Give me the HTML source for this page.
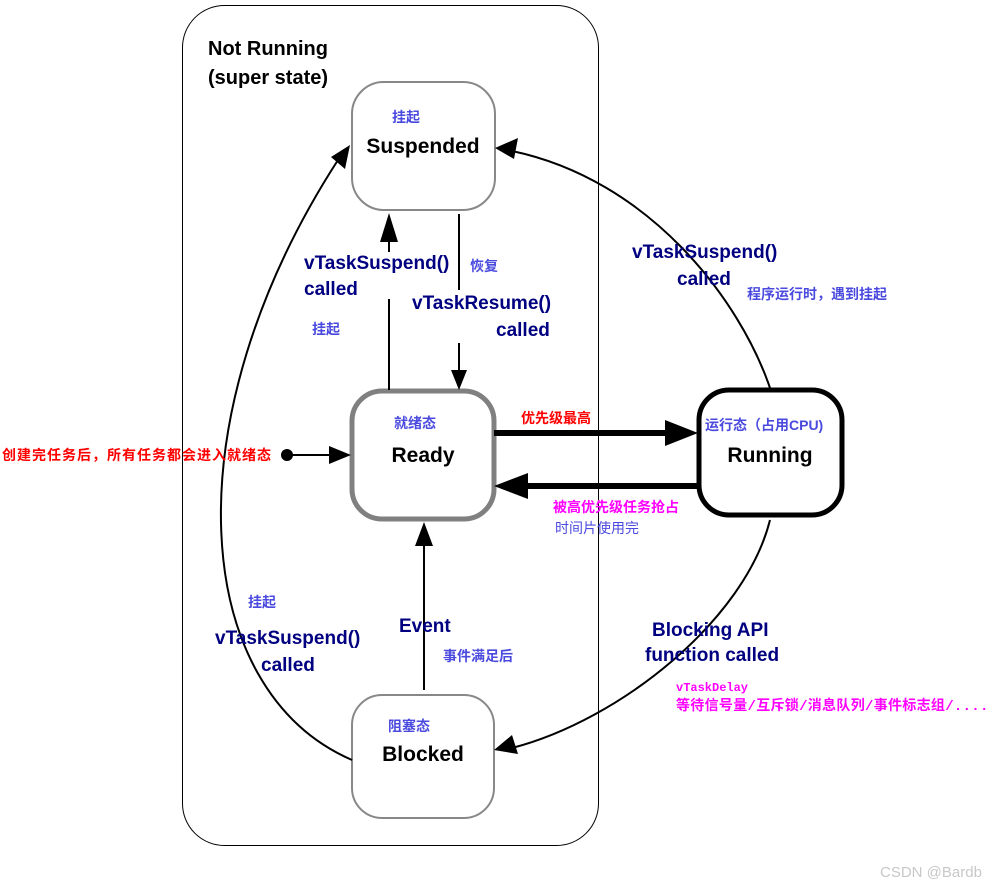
<!DOCTYPE html>
<html><head><meta charset="utf-8"><style>
html,body{margin:0;padding:0;background:#fff;}
svg{display:block;}
.b{font-family:"Liberation Sans","Noto Sans CJK SC",sans-serif;font-weight:bold;}
.st{font-size:21px;fill:#000;}
.nv{font-size:19px;fill:#000080;}
.cn{font-family:"Liberation Sans","Noto Sans CJK SC",sans-serif;font-size:14px;fill:#4a4adf;font-weight:bold;}
</style></head><body>
<svg width="1005" height="889" viewBox="0 0 1005 889" xmlns="http://www.w3.org/2000/svg">
<rect x="182.5" y="5.5" width="416" height="840" rx="42" fill="none" stroke="#000" stroke-width="1"/>
<text class="b" x="208" y="55" style="font-size:20px">Not Running</text>
<text class="b" x="208" y="84" style="font-size:20px">(super state)</text>

<rect x="352" y="82" width="143" height="128" rx="32" fill="#fff" stroke="#888" stroke-width="2"/>
<rect x="352" y="391" width="142" height="128" rx="30" fill="#fff" stroke="#808080" stroke-width="5"/>
<rect x="699" y="390" width="143" height="125" rx="30" fill="#fff" stroke="#000" stroke-width="5"/>
<rect x="352" y="695" width="142" height="123" rx="30" fill="#fff" stroke="#888" stroke-width="2"/>

<text class="b st" x="423" y="153" text-anchor="middle">Suspended</text>
<text class="b st" x="423" y="462" text-anchor="middle">Ready</text>
<text class="b st" x="770" y="462" text-anchor="middle">Running</text>
<text class="b st" x="423" y="761" text-anchor="middle">Blocked</text>

<text class="cn" x="392" y="122">挂起</text>
<text class="cn" x="394" y="428">就绪态</text>
<text class="cn" x="705" y="430">运行态（占用CPU)</text>
<text class="cn" x="388" y="731">阻塞态</text>

<g stroke="#000" stroke-width="2" fill="none">
<line x1="389" y1="390" x2="389" y2="299"/>
<line x1="389" y1="252" x2="389" y2="240"/>
<line x1="459" y1="214" x2="459" y2="290"/>
<line x1="459" y1="343" x2="459" y2="372"/>
<line x1="424" y1="690" x2="424" y2="545"/>
<line x1="290" y1="455" x2="333" y2="455"/>
<path d="M770,388 C740,300 650,180 512,151"/>
<path d="M770,520 C745,620 620,720 512,748"/>
<path d="M352,760 C190,690 170,420 338,160"/>
</g>
<g fill="#000">
<polygon points="389,213 380,242 398,242"/>
<polygon points="459,390 451,370 467,370"/>
<polygon points="424,522 415,546 433,546"/>
<polygon points="351,455 329,446 329,464"/>
<circle cx="287" cy="455" r="6"/>
<polygon points="495,148 518,138 514,159"/>
<polygon points="494,750 512,735 518,754"/>
<polygon points="350,145 331,157 345,169"/>
<rect x="494" y="430" width="172" height="6"/>
<polygon points="698,433 665,420 665,446"/>
<rect x="527" y="483" width="172" height="6"/>
<polygon points="494,486 528,473 528,499"/>
</g>

<text class="b nv" x="304" y="269">vTaskSuspend()</text>
<text class="b nv" x="304" y="295">called</text>
<text class="cn" x="312" y="334">挂起</text>
<text class="cn" x="470" y="271">恢复</text>
<text class="b nv" x="412" y="309">vTaskResume()</text>
<text class="b nv" x="496" y="336">called</text>
<text class="b nv" x="632" y="258">vTaskSuspend()</text>
<text class="b nv" x="677" y="285">called</text>
<text class="cn" x="747" y="299">程序运行时，遇到挂起</text>
<text class="b" x="521" y="423" style="font-size:14px;fill:#f00">优先级最高</text>
<text class="b" x="553" y="512" style="font-size:14px;fill:#f0f">被高优先级任务抢占</text>
<text class="cn" x="555" y="533" style="font-weight:normal">时间片使用完</text>
<text class="b" x="2" y="460" style="font-size:14px;letter-spacing:1px;fill:#f00">创建完任务后，所有任务都会进入就绪态</text>
<text class="cn" x="248" y="607">挂起</text>
<text class="b nv" x="215" y="644">vTaskSuspend()</text>
<text class="b nv" x="261" y="671">called</text>
<text class="b nv" x="399" y="632">Event</text>
<text class="cn" x="443" y="661">事件满足后</text>
<text class="b nv" x="652" y="636">Blocking API</text>
<text class="b nv" x="645" y="661">function called</text>
<text x="676" y="691" style="font-family:'Liberation Mono',monospace;font-weight:bold;font-size:12px;fill:#f0f">vTaskDelay</text>
<text x="676" y="710" style="font-family:'Liberation Mono','Noto Sans CJK SC',monospace;font-weight:bold;font-size:14px;letter-spacing:0.3px;fill:#f0f">等待信号量/互斥锁/消息队列/事件标志组/....</text>
<text x="880" y="877" style="font-family:'Liberation Sans',sans-serif;font-size:15px;fill:#c8c8c8">CSDN @Bardb</text>
</svg>
</body></html>
